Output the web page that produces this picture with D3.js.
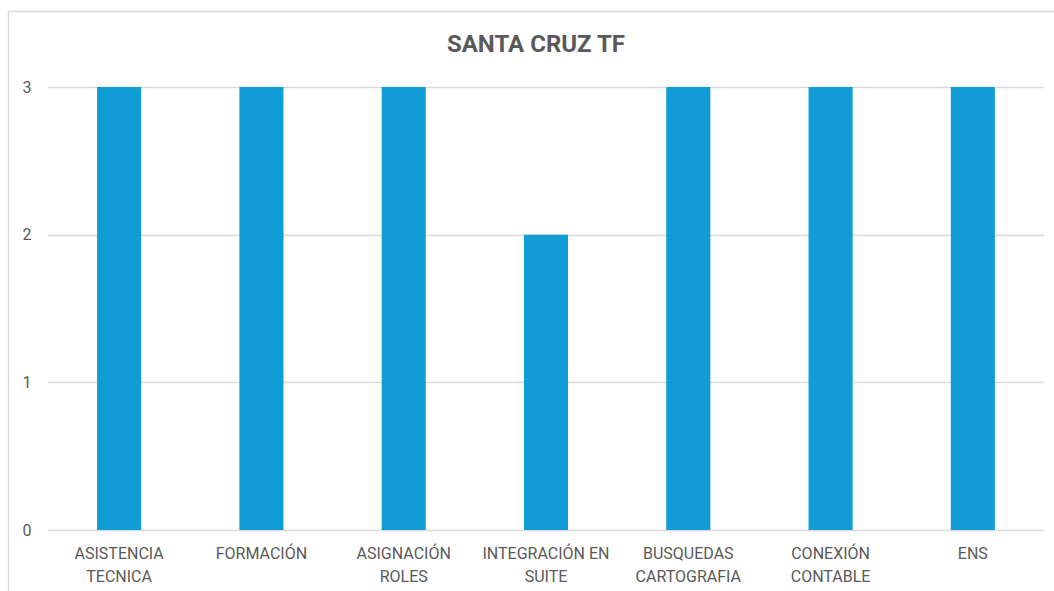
<!DOCTYPE html>
<html>
<head>
<meta charset="utf-8">
<script src="https://cdn.jsdelivr.net/npm/d3@7"></script>
<style>
  html, body { margin: 0; padding: 0; background: #fff; }
  svg { display: block; }
  text { font-family: Roboto, "Liberation Sans", sans-serif; fill: #595959; }
</style>
</head>
<body>
<svg id="chart" width="1054" height="591"></svg>
<script>
const categories = [
  ["ASISTENCIA", "TECNICA"],
  ["FORMACIÓN"],
  ["ASIGNACIÓN", "ROLES"],
  ["INTEGRACIÓN EN", "SUITE"],
  ["BUSQUEDAS", "CARTOGRAFIA"],
  ["CONEXIÓN", "CONTABLE"],
  ["ENS"]
];
const values = [3, 3, 3, 2, 3, 3, 3];
const yTicks = [0, 1, 2, 3];
const title = "SANTA CRUZ TF";

const svg = d3.select("#chart");
const W = 1054, H = 591;
const plot = { left: 48, right: 1044, top: 87, bottom: 530 };

// chart frame
svg.append("path")
  .attr("d", `M8.5,${H} V11.5 H${W}`)
  .attr("fill", "none")
  .attr("stroke", "#d9d9d9")
  .attr("stroke-width", 1.5);

const keys = categories.map(c => c.join(" "));
const x = d3.scaleBand().domain(keys).range([plot.left, plot.right]).paddingInner(0.69).paddingOuter(0.345);
const y = d3.scaleLinear().domain([0, 3]).range([plot.bottom, plot.top]);

// gridlines
svg.append("g").selectAll("line").data(yTicks).join("line")
  .attr("x1", plot.left).attr("x2", plot.right)
  .attr("y1", d => Math.round(y(d)) + 0.5).attr("y2", d => Math.round(y(d)) + 0.5)
  .attr("stroke", "#d9d9d9").attr("stroke-width", 1.5);

// y tick labels
svg.append("g").selectAll("text").data(yTicks).join("text")
  .attr("x", 27).attr("y", d => y(d))
  .attr("dy", "0.35em")
  .attr("text-anchor", "middle")
  .style("font-size", "16px")
  .text(d => d);

// bars
svg.append("g").selectAll("rect").data(values).join("rect")
  .attr("x", (d, i) => x(keys[i]))
  .attr("width", x.bandwidth())
  .attr("y", d => y(d))
  .attr("height", d => y(0) - y(d))
  .attr("fill", "#129cd6");

// category labels
const lab = svg.append("g").selectAll("text").data(categories).join("text")
  .attr("x", (d, i) => x(keys[i]) + x.bandwidth() / 2)
  .attr("y", 559)
  .attr("text-anchor", "middle")
  .style("font-size", "16px");
lab.selectAll("tspan").data(d => d).join("tspan")
  .attr("x", function() { return d3.select(this.parentNode).attr("x"); })
  .attr("dy", (d, i) => i === 0 ? 0 : 23)
  .text(d => d);

// title
svg.append("text")
  .attr("x", (plot.left + plot.right) / 2 - 10)
  .attr("y", 52)
  .attr("text-anchor", "middle")
  .style("font-size", "24px")
  .style("font-weight", "bold")
  .text(title);
</script>
</body>
</html>
